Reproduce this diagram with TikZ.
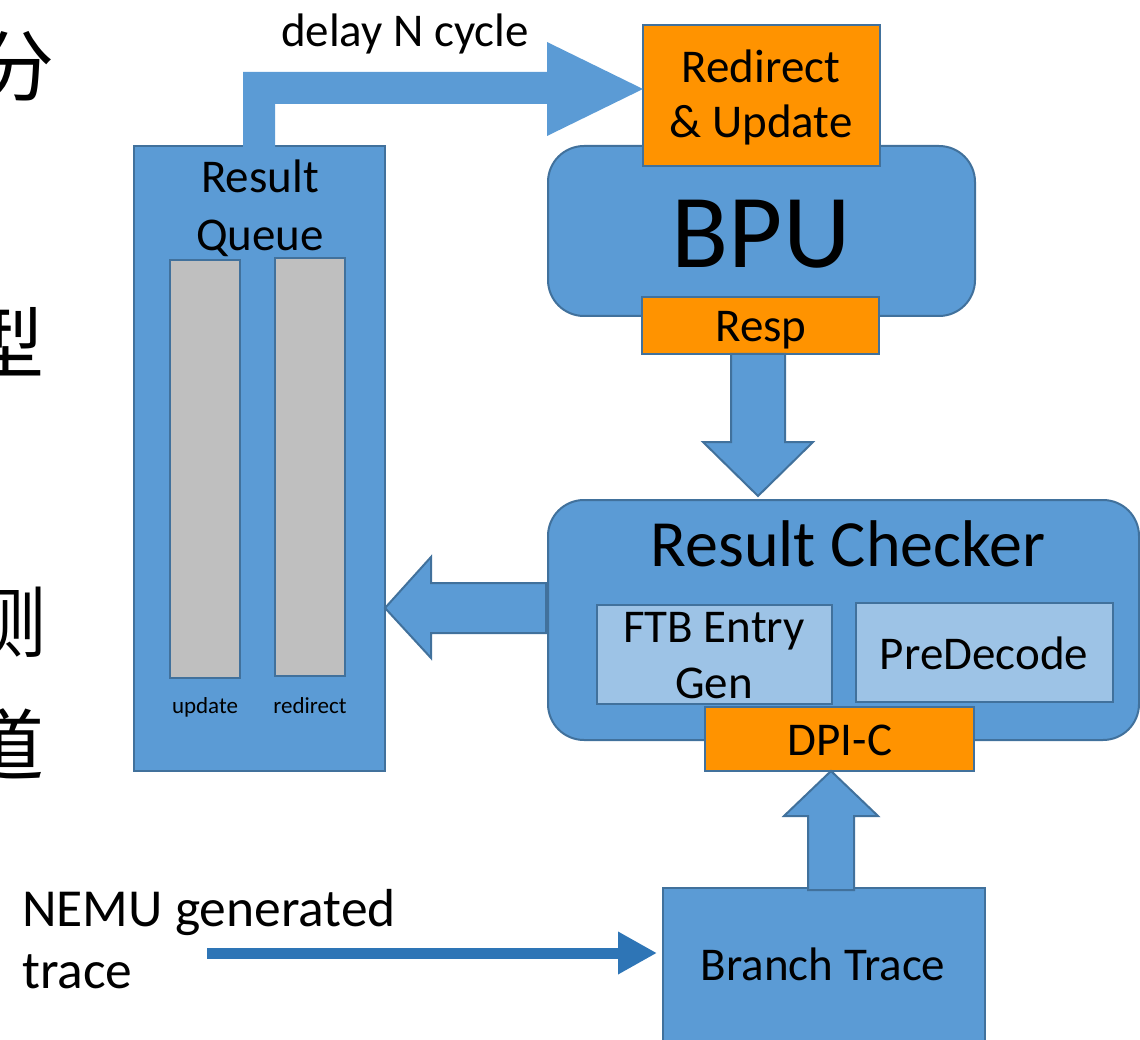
\documentclass[tikz,border=0pt]{standalone}
\usepackage{fontspec}
\setmainfont{Carlito}
\newfontfamily\cjkfont{Noto Sans CJK SC}
\usetikzlibrary{arrows.meta}

\definecolor{boxblue}{HTML}{5B9BD5}
\definecolor{edgeblue}{HTML}{41719C}
\definecolor{portorange}{HTML}{FF9300}
\definecolor{subblue}{HTML}{9DC3E6}
\definecolor{bargrey}{HTML}{BFBFBF}
\definecolor{tracearrow}{HTML}{2E75B6}

\tikzset{
  blk/.style={draw=edgeblue, line width=2pt, inner sep=0pt, outer sep=0pt,
              anchor=north west, shape=rectangle},
  unit/.style={blk, fill=boxblue},
  roundunit/.style={unit, rounded corners=36pt},
  port/.style={blk, fill=portorange},
  subunit/.style={blk, fill=subblue},
  bar/.style={blk, fill=bargrey},
  txt/.style={inner sep=0pt, outer sep=0pt, anchor=base,
              font=\fontsize{47}{56}\selectfont},
  smalltxt/.style={txt, font=\fontsize{23}{28}\selectfont},
  cjktxt/.style={inner sep=0pt, anchor=base east,
                 font=\cjkfont\fontsize{78}{78}\selectfont},
  blockarrow/.style={fill=boxblue, draw=edgeblue, line width=2pt, line join=miter},
  feedarrow/.style={draw=tracearrow, line width=11pt,
                    -{Triangle[length=39pt, width=40pt]}},
}

\begin{document}
\begin{tikzpicture}[x=1pt, y=-1pt]
\useasboundingbox (0,0) rectangle (1140,1040);

% characters of the neighbouring text column
\node[cjktxt] (cjka) at (55,96) {分};
\node[cjktxt] (cjkb) at (45,372) {型};
\node[cjktxt] (cjkc) at (47,651) {测};
\node[cjktxt] (cjkd) at (45,774) {道};

% result queue with its two buffers
\node[unit, minimum width=251pt, minimum height=625pt] (queue) at (134,146) {};
\node[bar, minimum width=70pt, minimum height=418pt] (updbar) at (170,260) {};
\node[bar, minimum width=70pt, minimum height=418pt] (redbar) at (275,258) {};
\node[txt] (queuet1) at (260,193) {Result};
\node[txt] (queuet2) at (260,251) {Queue};
\node[smalltxt] (updt) at (205,713) {update};
\node[smalltxt] (redt) at (310,713) {redirect};

% branch prediction unit
\node[roundunit, minimum width=427pt, minimum height=170pt] (bpu) at (548,146) {};
\node[port, minimum width=237pt, minimum height=141pt] (redirect) at (643,25) {};
\node[txt] (redirectt1) at (761,83) {Redirect};
\node[txt] (redirectt2) at (761,138) {\& Update};
\node[txt, font=\fontsize{105}{112}\selectfont] (bput) at (761,268) {BPU};
\node[port, minimum width=237pt, minimum height=57pt] (resp) at (642,297) {};
\node[txt] (respt) at (761,342) {Resp};

% result checker
\node[roundunit, minimum width=591pt, minimum height=240pt] (checker) at (548,500) {};
\node[txt, font=\fontsize{66}{74}\selectfont] (checkert) at (848,566) {Result Checker};
\node[subunit, minimum width=235pt, minimum height=99pt] (ftb) at (597,605) {};
\node[txt] (ftbt1) at (714,642) {FTB Entry};
\node[txt] (ftbt2) at (714,698) {Gen};
\node[subunit, minimum width=257pt, minimum height=99pt] (predecode) at (856,603) {};
\node[txt] (predecodet) at (984,669) {PreDecode};
\node[port, minimum width=269pt, minimum height=64pt] (dpi) at (705,707) {};
\node[txt] (dpit) at (840,755) {DPI-C};

% trace source
\node[unit, minimum width=322pt, minimum height=180pt] (branch) at (663,888) {};
\node[txt] (brancht) at (823,980) {Branch Trace};

% queue -> redirect & update, delayed
\fill[boxblue] (243,148) -- (243,72) -- (547,72) -- (547,42) -- (redirect.west |- 0,89)
  -- (547,136) -- (547,104) -- (275,104) -- (275,148) -- cycle;
\node[txt, font=\fontsize{47}{56}\selectfont] (delayt) at (405,47) {delay N cycle};

% resp -> result checker
\draw[blockarrow] (731,354) -- (731,442) -- (703,442) -- (758,496) -- (813,442)
  -- (785,442) -- (785,354) -- cycle;

% result checker -> result queue
\draw[blockarrow] (546,583) -- (431,583) -- (431,557) -- (queue.east |- 0,608)
  -- (431,658) -- (431,633) -- (546,633) -- cycle;

% branch trace -> DPI-C
\draw[blockarrow] (808,890) -- (808,816) -- (784,816) -- (dpi.south -| 831,0)
  -- (878,816) -- (854,816) -- (854,890) -- cycle;

% trace fed from NEMU
\node[inner sep=0pt, anchor=base west, font=\fontsize{53.5}{62}\selectfont]
  (nemut1) at (22,926) {NEMU generated};
\node[inner sep=0pt, anchor=base west, font=\fontsize{53.5}{62}\selectfont]
  (nemut2) at (22,988) {trace};
\coordinate (nemusrc) at (207,953);
\draw[feedarrow, shorten >=6pt] (nemusrc) -- (nemusrc -| branch.west);
\end{tikzpicture}
\end{document}
